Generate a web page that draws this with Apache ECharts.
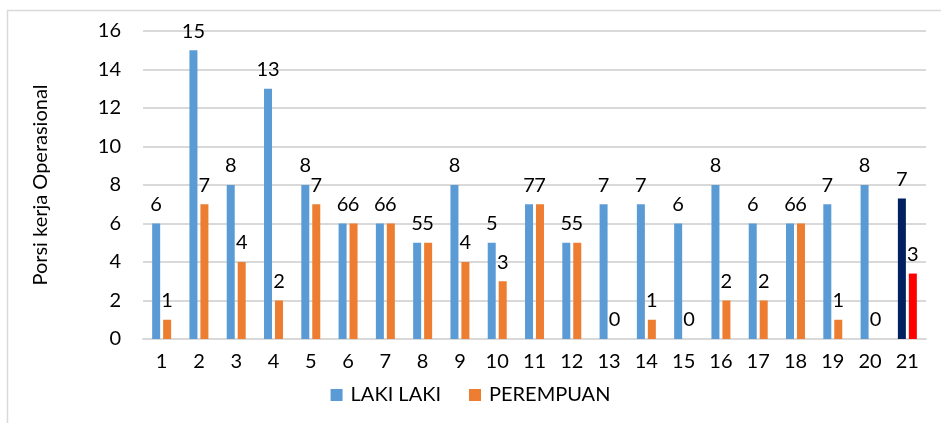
<!DOCTYPE html>
<html>
<head>
<meta charset="utf-8">
<script src="https://cdn.jsdelivr.net/npm/echarts@6/dist/echarts.min.js"></script>
<style>
  html, body { margin: 0; padding: 0; background: #fff; }
  #Charts { width: 941px; height: 423px; }
</style>
</head>
<body>
<div id="Charts"></div>
<script>
// data
var categories = ['1','2','3','4','5','6','7','8','9','10','11','12','13','14','15','16','17','18','19','20','21'];
var lakiLaki = [6, 15, 8, 13, 8, 6, 6, 5, 8, 5, 7, 5, 7, 7, 6, 8, 6, 6, 7, 8, 7.3];
var perempuan = [1, 7, 4, 2, 7, 6, 6, 5, 4, 3, 7, 5, 0, 1, 0, 2, 2, 6, 1, 0, 3.4];
var yTicks = [0, 2, 4, 6, 8, 10, 12, 14, 16];

var lastIdx = categories.length - 1;
var fontFam = 'Lato, "Open Sans", sans-serif';

var chart = echarts.init(document.getElementById('Charts'));
var label = {
  show: true,
  position: 'top',
  distance: 9,
  color: '#000',
  fontSize: 20,
  fontFamily: fontFam,
  formatter: function (p) { return Math.round(p.value) }
}
var option = {
  animation: false,
  backgroundColor: '#fff',
  graphic: [{
    type: 'rect',
    shape: { x: 7.5, y: 10.5, width: 950, height: 430 },
    style: { fill: 'none', stroke: '#d9d9d9', lineWidth: 1.5 },
    silent: true
  }],
  grid: { left: 143, right: 15, top: 31, bottom: 84 },
  legend: {
    bottom: 13,
    left: 'center',
    icon: 'rect',
    itemWidth: 12,
    itemHeight: 12,
    itemGap: 28,
    textStyle: { fontSize: 20, color: '#000', fontFamily: fontFam, padding: [0, 0, 0, 3] },
    data: ['LAKI LAKI', 'PEREMPUAN']
  },
  xAxis: {
    type: 'category',
    data: categories,
    axisTick: { show: false },
    axisLine: { lineStyle: { color: '#d9d9d9', width: 2 } },
    axisLabel: { color: '#000', fontSize: 20, margin: 13, fontFamily: fontFam }
  },
  yAxis: {
    type: 'value',
    min: yTicks[0],
    max: yTicks[yTicks.length - 1],
    interval: 2,
    name: 'Porsi kerja Operasional',
    nameLocation: 'middle',
    nameGap: 92,
    nameTextStyle: { fontSize: 20, color: '#000', fontFamily: fontFam },
    axisLine: { show: false },
    axisTick: { show: false },
    splitLine: { lineStyle: { color: '#d9d9d9', width: 2 } },
    axisLabel: { color: '#000', fontSize: 20, margin: 22, fontFamily: fontFam }
  },
  series: [
    {
      name: 'LAKI LAKI',
      type: 'bar',
      barWidth: 8,
      barGap: '37%',
      data: lakiLaki,
      label: label,
      itemStyle: {
        color: function (p) { return p.dataIndex === lastIdx ? '#002060' : '#5B9BD5' }
      }
    },
    {
      name: 'PEREMPUAN',
      type: 'bar',
      barWidth: 8,
      barGap: '37%',
      data: perempuan,
      label: label,
      itemStyle: {
        color: function (p) { return p.dataIndex === lastIdx ? '#FF0000' : '#ED7D31' }
      }
    }
  ]
};
chart.setOption(option);
// legend swatches keep the series colours
chart.setOption({ series: [{ name: 'LAKI LAKI', color: '#5B9BD5' }, { name: 'PEREMPUAN', color: '#ED7D31' }] });
</script>
</body>
</html>
